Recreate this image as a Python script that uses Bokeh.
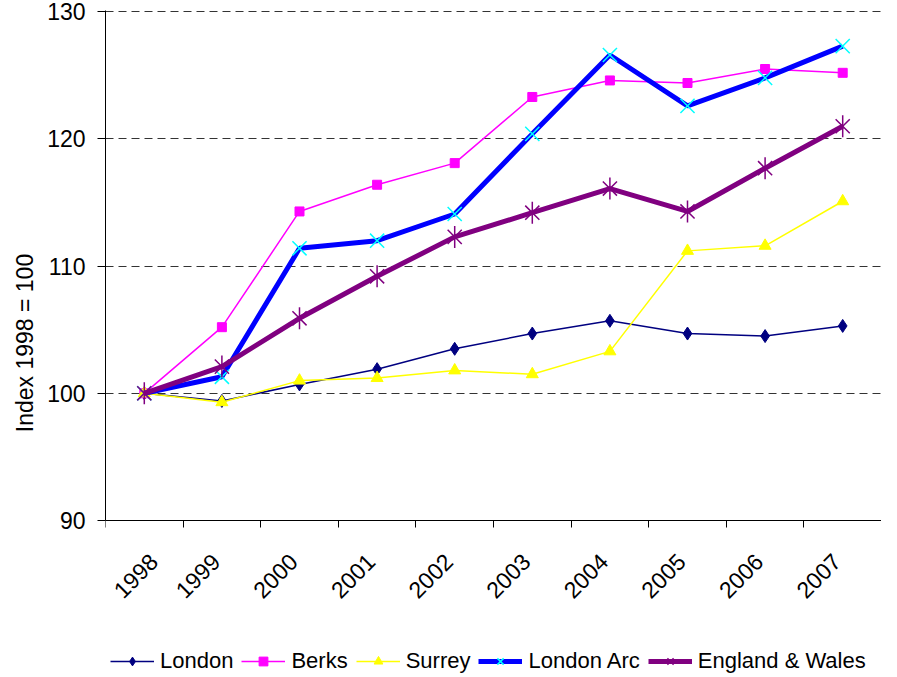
import math
from bokeh.plotting import figure
from bokeh.models import FixedTicker, Legend, LegendItem, Range1d
from bokeh.embed import file_html
from bokeh.resources import INLINE

years = ["1998", "1999", "2000", "2001", "2002", "2003", "2004", "2005", "2006", "2007"]
london = [100.0, 99.4, 100.7, 101.9, 103.5, 104.7, 105.7, 104.7, 104.5, 105.3]
berks = [100.0, 105.2, 114.3, 116.4, 118.1, 123.3, 124.6, 124.4, 125.5, 125.2]
surrey = [100.0, 99.3, 101.0, 101.2, 101.8, 101.5, 103.3, 111.2, 111.6, 115.1]
london_arc = [100.0, 101.3, 111.4, 112.0, 114.1, 120.4, 126.6, 122.6, 124.8, 127.3]
eng_wales = [100.0, 102.1, 105.9, 109.2, 112.3, 114.2, 116.1, 114.3, 117.7, 121.0]
y_ticks = [90, 100, 110, 120, 130]

xs = [i + 0.5 for i in range(len(years))]
label_pos = [x - 0.08 for x in xs]
label_pos[0] = xs[0] + 0.12  # keep the first label inside the drawing area
FONT = "Liberation Sans"
FS = "23px"

# frame extends below the x axis so that the legend can sit inside it
FRAME_H = 665
PX_PER_UNIT = 510 / 40.1
y_top = 130.1
y_bottom = y_top - FRAME_H / PX_PER_UNIT

p = figure(frame_width=776, frame_height=FRAME_H, output_backend="svg", toolbar_location=None,
           x_range=Range1d(0, len(years)), y_range=Range1d(y_bottom, y_top),
           min_border_left=105, min_border_right=0, min_border_top=10,
           min_border_bottom=5)
p.outline_line_color = None
p.background_fill_color = "white"
p.xgrid.grid_line_color = None

# y axis
p.yaxis.ticker = FixedTicker(ticks=y_ticks)
p.yaxis.bounds = (90, y_top)
p.yaxis.major_tick_out = 8
p.yaxis.major_tick_in = 0
p.yaxis.minor_tick_line_color = None
p.yaxis.axis_line_color = "black"
p.yaxis.major_tick_line_color = "black"
p.yaxis.major_label_text_font = FONT
p.yaxis.major_label_text_font_size = FS
p.yaxis.major_label_text_color = "black"
p.yaxis.major_label_standoff = 12
p.yaxis.axis_label = "Index 1998 = 100"
p.yaxis.axis_label_text_font = FONT
p.yaxis.axis_label_text_font_size = FS
p.yaxis.axis_label_text_font_style = "normal"
p.yaxis.axis_label_text_color = "black"
p.yaxis.axis_label_standoff = 6

p.ygrid.grid_line_color = "#333333"
p.ygrid.grid_line_dash = "8 5"
p.ygrid.grid_line_width = 1

# x axis drawn at y = 90; labels near category centres, ticks at boundaries
p.xaxis.fixed_location = 90
p.xaxis.ticker = FixedTicker(ticks=label_pos, minor_ticks=list(range(len(years))))
p.xaxis.major_label_overrides = {x: y for x, y in zip(label_pos, years)}
p.xaxis.major_tick_out = 0
p.xaxis.major_tick_in = 0
p.xaxis.minor_tick_out = 7
p.xaxis.minor_tick_in = 0
p.xaxis.minor_tick_line_color = "black"
p.xaxis.axis_line_color = "black"
p.xaxis.major_label_orientation = math.pi / 4
p.xaxis.major_label_text_font = FONT
p.xaxis.major_label_text_font_size = FS
p.xaxis.major_label_text_color = "black"
p.xaxis.major_label_standoff = 30

items = []

r1 = p.line(xs, london, line_color="#000080", line_width=1.5)
m1 = p.scatter(xs, london, marker="diamond", size=13, fill_color="#000080", line_color="#000080")
items.append(LegendItem(label="London", renderers=[r1, m1]))

r2 = p.line(xs, berks, line_color="#FF00FF", line_width=1.5)
m2 = p.scatter(xs, berks, marker="square", size=9, fill_color="#FF00FF", line_color="#FF00FF")
items.append(LegendItem(label="Berks", renderers=[r2, m2]))

r3 = p.line(xs, surrey, line_color="#FFFF00", line_width=1.5)
m3 = p.scatter(xs, surrey, marker="triangle", size=12, fill_color="#FFFF00", line_color="#FFFF00")
items.append(LegendItem(label="Surrey", renderers=[r3, m3]))

r4 = p.line(xs, london_arc, line_color="#0000FF", line_width=5)
m4 = p.scatter(xs, london_arc, marker="x", size=20, line_color="#00FFFF", line_width=1.5)
items.append(LegendItem(label="London Arc", renderers=[r4, m4]))

r5 = p.line(xs, eng_wales, line_color="#800080", line_width=5)
m5 = p.scatter(xs, eng_wales, marker="x", size=20, line_color="#800080", line_width=1.5)
m5b = p.scatter(xs, eng_wales, marker="dash", size=22, angle=math.pi / 2, line_color="#800080", line_width=1.5)
items.append(LegendItem(label="England & Wales", renderers=[r5, m5, m5b]))

legend = Legend(items=items, orientation="horizontal", location=(5, 1),
                glyph_width=44, glyph_height=22, label_standoff=6, spacing=8,
                padding=0, margin=0, border_line_alpha=0, background_fill_alpha=0,
                label_text_font=FONT, label_text_font_size="22px", label_text_color="black")
p.add_layout(legend, "center")

open("out.html", "w").write(file_html(p, INLINE))
